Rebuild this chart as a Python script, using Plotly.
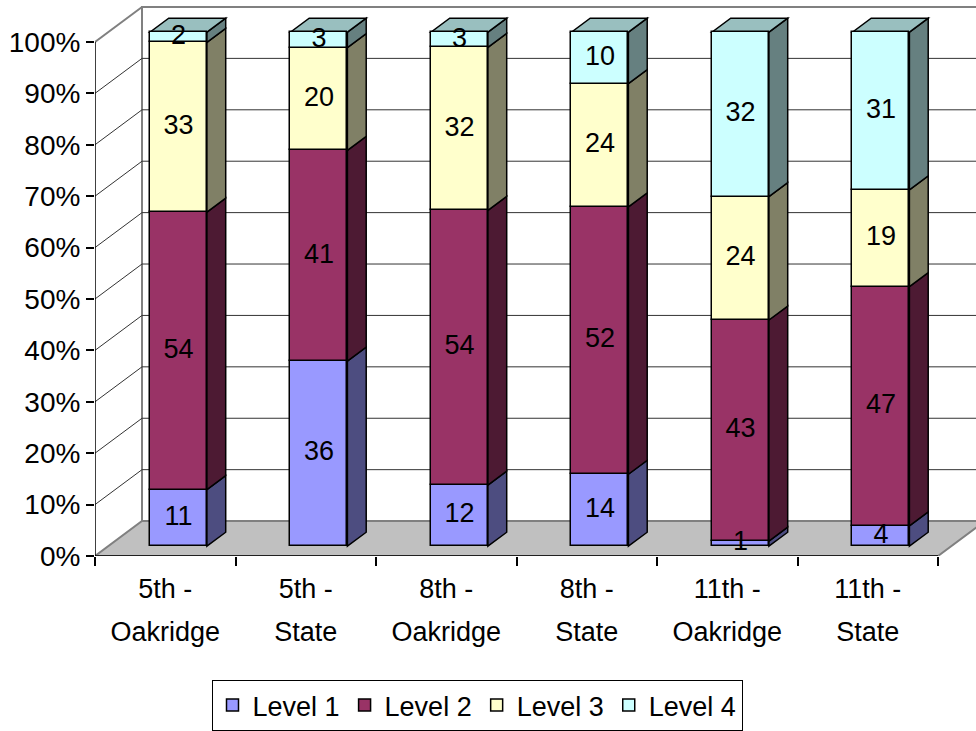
import plotly.graph_objects as go

# ---- data -------------------------------------------------------------
cat_line1 = ["5th -", "5th -", "8th -", "8th -", "11th -", "11th -"]
cat_line2 = ["Oakridge", "State", "Oakridge", "State", "Oakridge", "State"]
series_names = ["Level 1", "Level 2", "Level 3", "Level 4"]
level1 = [11, 36, 12, 14, 1, 4]
level2 = [54, 41, 54, 52, 43, 47]
level3 = [33, 20, 32, 24, 24, 19]
level4 = [2, 3, 3, 10, 32, 31]
y_ticks = [0, 10, 20, 30, 40, 50, 60, 70, 80, 90, 100]

series = [level1, level2, level3, level4]
face_colors = ["#9999FF", "#993366", "#FFFFCC", "#CCFFFF"]
side_colors = ["#4D4D80", "#4D1A33", "#808066", "#668080"]
top_colors = ["#B3B3FF", "#B36685", "#D9D9AD", "#99BFBF"]

# ---- layout geometry (pixels) ----------------------------------------
W, H = 976, 731
PLOT_L, PLOT_T, PLOT_R, PLOT_B = 95, 0, 0, 174
PLOT_W = W - PLOT_L - PLOT_R
PLOT_H = H - PLOT_T - PLOT_B
PX_CAT = 140.5          # pixels per category on the front plane
PX_PCT = 5.15           # pixels per percent
DEPTH_PX = (47, 35)     # oblique offset of the back wall

DX = DEPTH_PX[0] / PX_CAT
DY = DEPTH_PX[1] / PX_PCT
BAR_D0, BAR_D1 = 0.28, 0.68   # bar front / back depth
BAR_W = 57 / PX_CAT
N = len(cat_line1)

x_range = [-0.5, -0.5 + PLOT_W / PX_CAT]
y_range = [0, PLOT_H / PX_PCT]

FONT = "Arial, Liberation Sans, sans-serif"


def path(pts):
    return "M " + " L ".join(f"{x},{y}" for x, y in pts) + " Z"


shapes = []
# back wall
x_left_back = -0.5 + DX
x_right_back = N - 0.5 + DX
shapes.append(dict(type="path", layer="below", xref="x", yref="y",
                   path=path([(x_left_back, DY), (x_right_back, DY),
                              (x_right_back, 100 + DY), (x_left_back, 100 + DY)]),
                   fillcolor="white", line=dict(color="#808080", width=2)))
# floor
shapes.append(dict(type="path", layer="below", xref="x", yref="y",
                   path=path([(-0.5, 0), (N - 0.5, 0), (N - 0.5 + DX, DY), (-0.5 + DX, DY)]),
                   fillcolor="#C0C0C0", line=dict(color="#808080", width=2)))
# gridlines on the back wall and the left wall
for v in y_ticks[1:]:
    col = "#808080" if v == 100 else "#333333"
    wdt = 2 if v == 100 else 1
    shapes.append(dict(type="line", layer="below", xref="x", yref="y",
                       x0=x_left_back, x1=x_right_back, y0=v + DY, y1=v + DY,
                       line=dict(color=col, width=wdt)))
    shapes.append(dict(type="line", layer="below", xref="x", yref="y",
                       x0=-0.5, x1=x_left_back, y0=v, y1=v + DY,
                       line=dict(color=col, width=wdt)))
# front axis lines
shapes.append(dict(type="line", layer="above", xref="x", yref="y",
                   x0=-0.5, x1=-0.5, y0=0, y1=100, line=dict(color="black", width=1.5)))
shapes.append(dict(type="line", layer="above", xref="x", yref="y",
                   x0=-0.5, x1=N - 0.5, y0=0, y1=0, line=dict(color="black", width=1.5)))

# ---- bars ---------------------------------------------------------------
totals = [sum(s[i] for s in series) for i in range(N)]
shares = [[s[i] / totals[i] * 100 for i in range(N)] for s in series]
bar_x = [i + BAR_D0 * DX for i in range(N)]
depth = BAR_D1 - BAR_D0
ox, oy = depth * DX, depth * DY

fig = go.Figure()
cum = [BAR_D0 * DY] * N
label_x, label_y, label_t = [], [], []
for k, name in enumerate(series_names):
    base = cum[:]
    fig.add_trace(go.Bar(
        x=bar_x, y=shares[k], base=base, width=BAR_W, name=name,
        marker=dict(color=face_colors[k], line=dict(color="black", width=1.5)),
        hoverinfo="skip"))
    for i in range(N):
        b, t = base[i], base[i] + shares[k][i]
        xr = bar_x[i] + BAR_W / 2
        xl = bar_x[i] - BAR_W / 2
        shapes.append(dict(type="path", layer="below", xref="x", yref="y",
                           path=path([(xr, b), (xr + ox, b + oy), (xr + ox, t + oy), (xr, t)]),
                           fillcolor=side_colors[k], line=dict(color="black", width=1.5)))
        if k == len(series_names) - 1:
            shapes.append(dict(type="path", layer="below", xref="x", yref="y",
                               path=path([(xl, t), (xr, t), (xr + ox, t + oy), (xl + ox, t + oy)]),
                               fillcolor=top_colors[k], line=dict(color="black", width=1.5)))
        label_x.append(bar_x[i])
        label_y.append((b + t) / 2)
        label_t.append(str(series[k][i]))
    cum = [cum[i] + shares[k][i] for i in range(N)]

fig.add_trace(go.Scatter(
    x=label_x, y=label_y, text=label_t, mode="text", xaxis="x2",
    textfont=dict(family=FONT, size=27, color="black"),
    showlegend=False, cliponaxis=False, hoverinfo="skip"))

fig.update_layout(
    width=W, height=H,
    margin=dict(l=PLOT_L, r=PLOT_R, t=PLOT_T, b=PLOT_B),
    paper_bgcolor="white", plot_bgcolor="white",
    barmode="overlay", bargap=0,
    shapes=shapes,
    font=dict(family=FONT, size=27, color="black"),
    showlegend=True,
    legend=dict(orientation="h", x=(477 - PLOT_L) / PLOT_W, xanchor="center",
                y=(PLOT_H - 681) / PLOT_H, yanchor="top",
                bordercolor="black", borderwidth=1, bgcolor="white",
                font=dict(family=FONT, size=27), traceorder="normal"),
    xaxis=dict(range=x_range, tickmode="array", tickvals=list(range(N)), ticktext=cat_line1,
               ticks="", showgrid=False, zeroline=False, showline=False,
               tickfont=dict(size=27), ticklabelstandoff=14,
               minor=dict(tickmode="array", tickvals=[i - 0.5 for i in range(N + 1)],
                          ticks="outside", ticklen=9, tickcolor="black", tickwidth=1.5,
                          showgrid=False)),
    xaxis2=dict(range=x_range, overlaying="x", anchor="y", side="bottom",
                tickmode="array", tickvals=list(range(N)), ticktext=cat_line2,
                ticks="", showgrid=False, zeroline=False, showline=False,
                tickfont=dict(size=27), ticklabelstandoff=57),
    yaxis=dict(range=y_range, tickmode="array", tickvals=y_ticks,
               ticktext=[f"{v}%" for v in y_ticks], ticks="outside", ticklen=8,
               tickcolor="black", tickwidth=1.5, showgrid=False, zeroline=False,
               showline=False, tickfont=dict(size=28)),
)

fig.write_html("out.html")
